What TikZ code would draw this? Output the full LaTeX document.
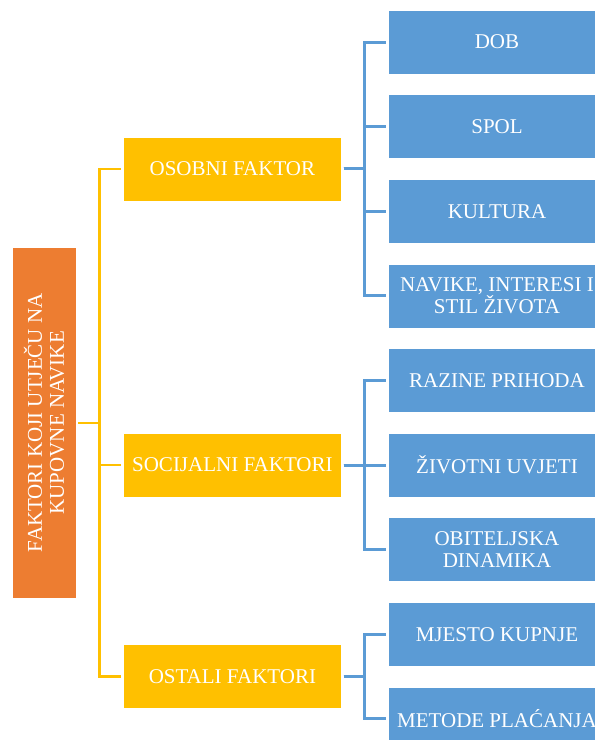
\documentclass[tikz,border=0pt]{standalone}
\usepackage{fontspec}
\setmainfont{Liberation Serif}
\usetikzlibrary{positioning,calc}

\definecolor{rootorange}{HTML}{ED7D31}
\definecolor{midyellow}{HTML}{FFC000}
\definecolor{leafblue}{HTML}{5B9BD5}

\begin{document}
\begin{tikzpicture}[
        x=1pt, y=-1pt,
        node distance=20pt,
        every node/.style={align=center, inner sep=2pt, text=white, draw=white, line width=0.6pt,
                           font=\fontsize{21}{24}\selectfont},
        leafbox/.style={fill=leafblue, minimum width=218pt, minimum height=64pt},
        midbox/.style={fill=midyellow, minimum width=218pt, minimum height=64pt},
        rootbox/.style={fill=rootorange, minimum width=351pt, minimum height=64pt},
        bline/.style={draw=leafblue, line width=3pt, shorten <=2pt, shorten >=2pt},
        yline/.style={draw=midyellow, line width=2.2pt, shorten <=2pt, shorten >=2pt}
      ]
      \useasboundingbox (0,0) rectangle (595,740);
      \clip (0,0) rectangle (595,740);
      % right column
      \node (dob)     [leafbox] at (497,42) {DOB};
      \node (spol)    [leafbox, below=of dob]     {SPOL};
      \node (kultura) [leafbox, below=of spol]    {KULTURA};
      \node (navike)  [leafbox, below=of kultura] {NAVIKE, INTERESI I\\[-2pt]STIL ŽIVOTA};
      \node (prihod)  [leafbox, below=of navike]  {RAZINE PRIHODA};
      \node (uvjeti)  [leafbox, below=of prihod]  {ŽIVOTNI UVJETI};
      \node (obitelj) [leafbox, below=of uvjeti]  {OBITELJSKA\\[-2pt]DINAMIKA};
      \node (mjesto)  [leafbox, below=of obitelj] {MJESTO KUPNJE};
      \node (placanje)[leafbox, below=of mjesto]  {METODE PLAĆANJA};
      % middle column
      \coordinate (m1) at ($(spol.west)!0.5!(kultura.west)$);
      \coordinate (m3) at ($(mjesto.west)!0.5!(placanje.west)$);
      \node (osobni)    [midbox, left=46pt of m1]          {OSOBNI FAKTOR};
      \node (socijalni) [midbox, left=46pt of uvjeti.west] {SOCIJALNI FAKTORI};
      \node (ostali)    [midbox, left=46pt of m3]          {OSTALI FAKTORI};
      % root
      \node (root) [rootbox, rotate=90] at ($(osobni.west)!0.5!(ostali.west)+(-79pt,0)$)
                   {FAKTORI KOJI UTJEČU NA\\[-2pt]KUPOVNE NAVIKE};
      % connectors
      \foreach \c in {osobni,socijalni,ostali}
        \draw[yline] (root.south) -- ++(23pt,0) |- (\c.west);
      \foreach \c in {dob,spol,kultura,navike}
        \draw[bline] (osobni.east) -- ++(23pt,0) |- (\c.west);
      \foreach \c in {prihod,uvjeti,obitelj}
        \draw[bline] (socijalni.east) -- ++(23pt,0) |- (\c.west);
      \foreach \c in {mjesto,placanje}
        \draw[bline] (ostali.east) -- ++(23pt,0) |- (\c.west);
    \end{tikzpicture}
\end{document}
